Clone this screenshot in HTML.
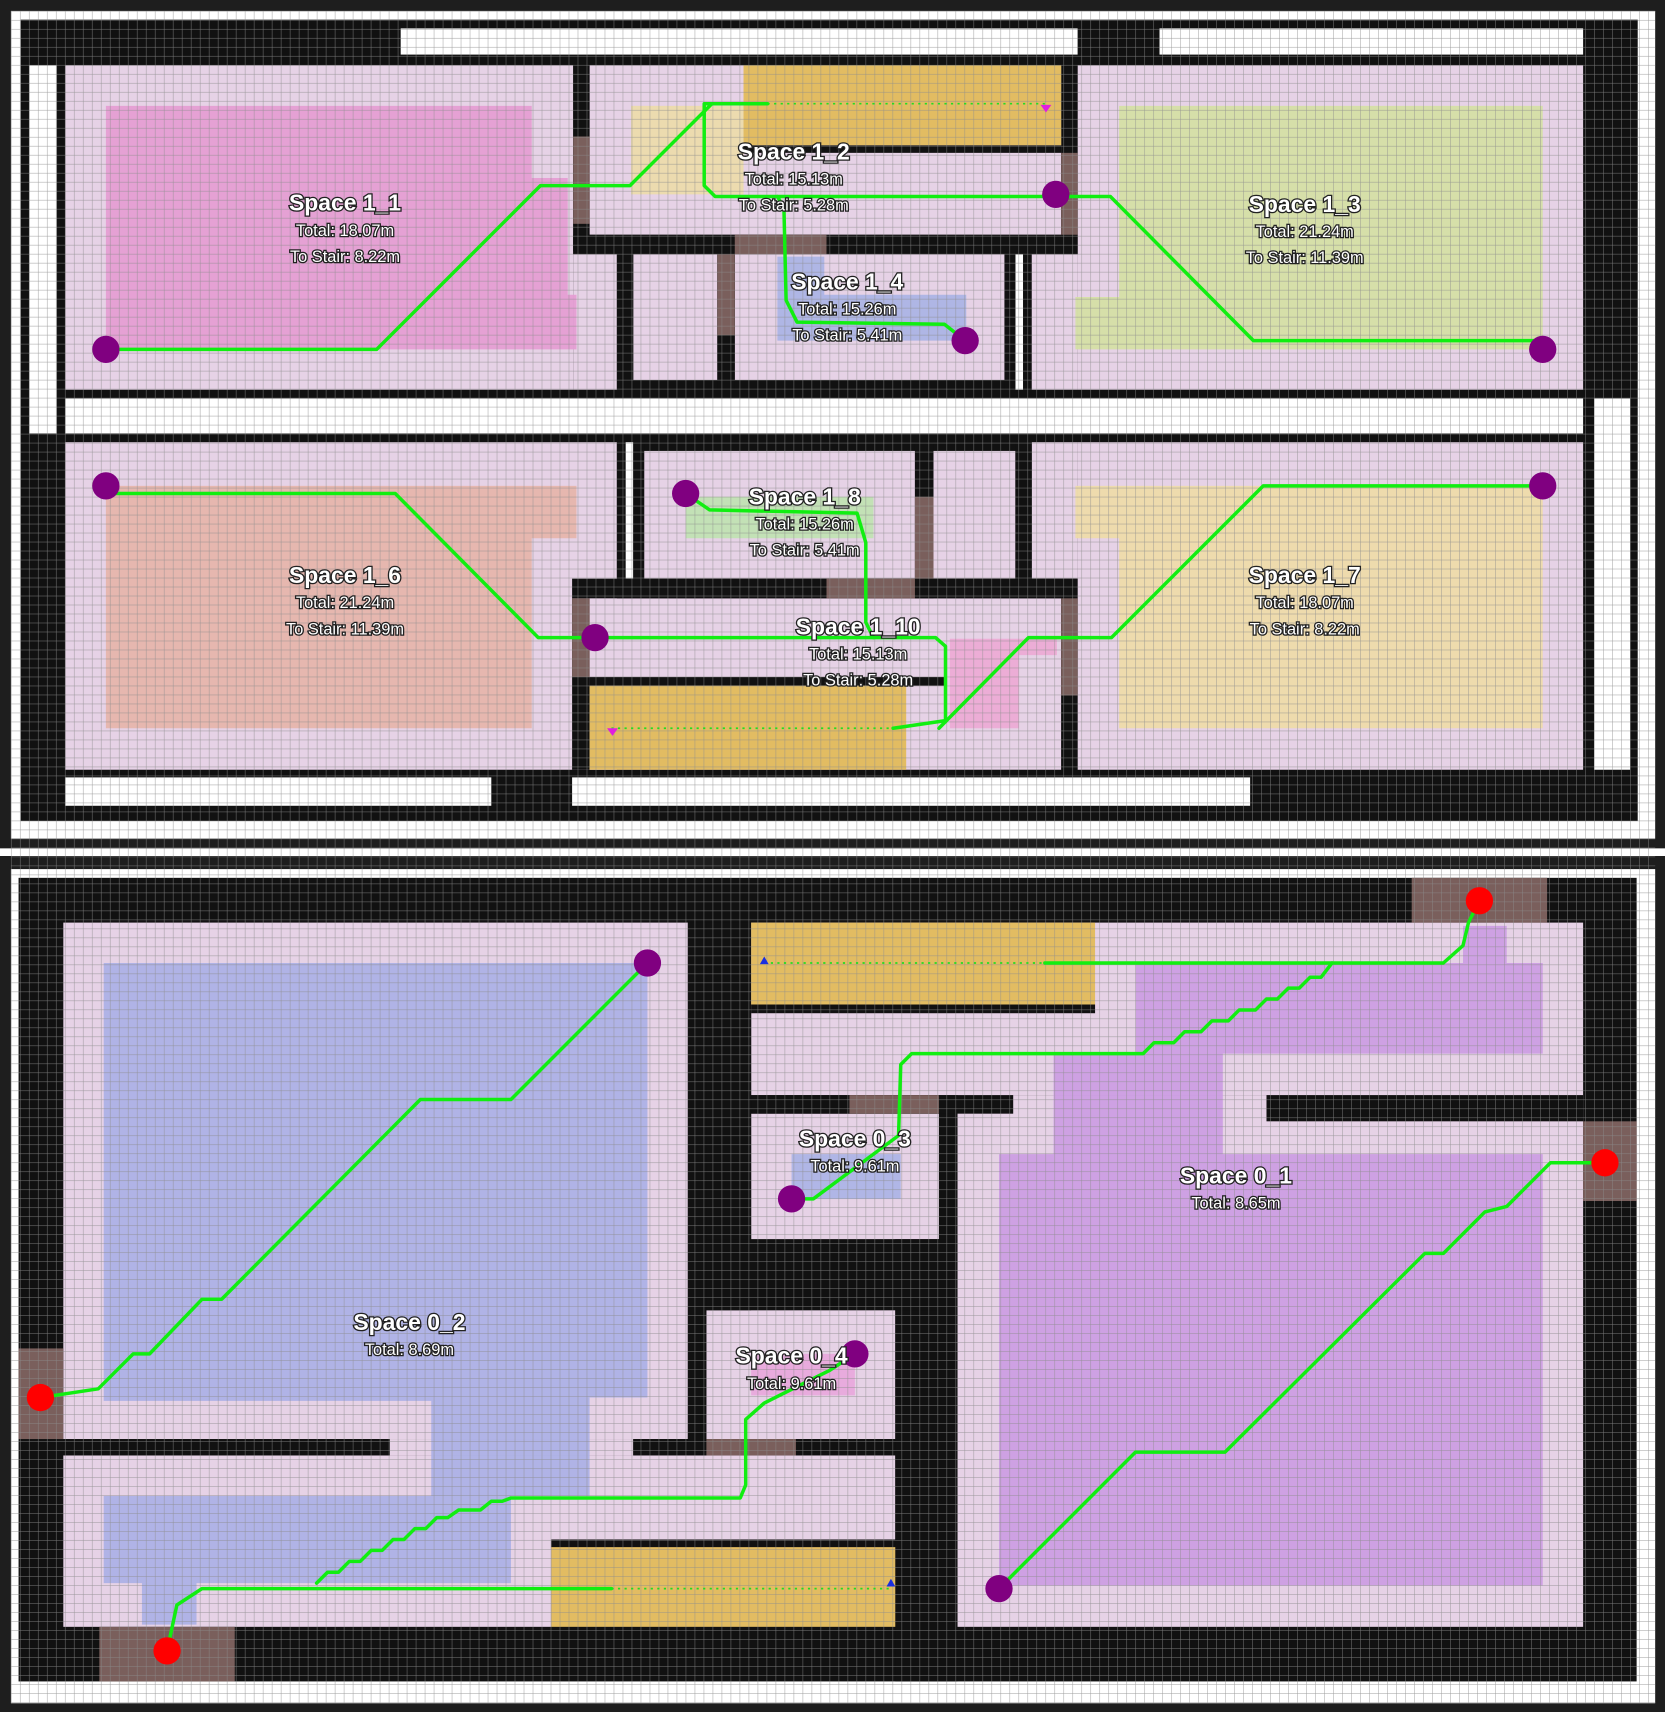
<!DOCTYPE html>
<html><head><meta charset="utf-8"><title>Floor plan paths</title>
<style>
html,body{margin:0;padding:0;background:#fff;}
svg{display:block;}
.lbl{font-family:"Liberation Sans",sans-serif;fill:#fff;stroke:#222;stroke-width:2.4px;paint-order:stroke;text-anchor:middle;}
.t1{font-size:21px;font-weight:bold;}
.t2{font-size:15px;}
</style></head>
<body>
<svg id="plan" width="1665" height="1712" viewBox="0 0 1525 1568" preserveAspectRatio="none" xmlns="http://www.w3.org/2000/svg">
<defs>
<pattern id="grid" patternUnits="userSpaceOnUse" x="10.5" y="10.5" width="8.24" height="8.24">
<path d="M8.24 0V8.24H0" fill="none" stroke="#8c8c8c" stroke-width="0.9" opacity="0.85"/>
</pattern>
</defs>
<g id="layers"></g>
</svg>
<script>
const NS='http://www.w3.org/2000/svg';
const frameRects=[[0,0,1525,777,'#1e1e1e','top-panel-frame'],[10,10,1506,758,'#ffffff','top-panel-canvas'],[0,784,1525,784,'#1e1e1e','bottom-panel-frame'],[10,796,1506,764,'#ffffff','bottom-panel-canvas']];
const wallRects=[[19,18,1481,734,'#111','top-floor-walls'],[17,804,1482,736,'#111','bottom-floor-walls']];
const exteriorRects=[[367,26,620,24,'top-exterior-strip'],[1062,26,388,24,'top-exterior-strip-2'],[27,60,25,337,'left-exterior-strip'],[60,365,1390,32,'corridor'],[1460,365,33,340,'right-exterior-strip'],[60,712,390,26,'bottom-exterior-strip'],[524,712,621,26,'bottom-exterior-strip-2'],[573,405,7,125,'thin-gap'],[930,233,7,124,'thin-gap-2']];
const roomRects=[[60,60,465,297,'space-1-1-floor'],[525,233,40,124,'space-1-1-nook'],[540,60,432,155,'space-1-2-floor'],[673,233,247,115,'space-1-4-floor'],[580,233,77,115,'closet-floor'],[987,60,463,297,'space-1-3-floor'],[945,233,42,124,'space-1-3-alcove'],
[60,405,505,300,'space-1-6-floor'],[590,413,248,117,'space-1-8-floor'],[855,413,75,117,'closet-2-floor'],[540,548,432,157,'space-1-10-floor'],[945,405,42,125,'space-1-7-alcove'],[987,405,463,300,'space-1-7-floor'],
[58,845,572,473,'space-0-2-floor'],[357,1318,223,15,'space-0-2-opening'],[58,1333,762,77,'space-0-2-hall'],[58,1410,447,80,'space-0-2-lower'],[647,1200,173,118,'space-0-4-floor'],[688,1020,172,115,'space-0-3-floor'],[688,845,762,158,'upper-hall-floor'],[877,1003,573,487,'space-0-1-floor'],[58,1283,337,35,'space-0-2-strip']];
const innerWalls=[[525,60,15,170],[972,60,15,173],[525,215,462,18],[565,233,15,124],[657,233,16,124],[920,233,10,124],[565,405,8,125],[580,405,10,125],[838,405,17,143],[930,405,15,125],[524,530,463,18],[524,548,16,157],[972,548,15,157],[540,620,326,8],[681,133,291,7],
[58,1318,299,15],[580,1318,240,15],[630,845,17,488],[647,845,41,355],[688,920,315,8],[688,1003,240,17],[860,1020,17,470],[820,1135,57,405],[647,1135,213,65],[1160,1003,290,24],[505,1410,315,7]];
const doorRects=[[525,125,15,80],[972,140,15,75],[673,215,84,18],[657,233,16,74],[838,455,17,75],[757,530,81,18],[524,548,16,72],[972,548,15,89],
[17,1235,41,83],[91,1490,124,50],[1293,804,124,41],[1450,1027,49,73],[778,1003,82,17],[647,1318,82,15]];
const stairRects=[[681,60,291,73,'stair-1-2'],[540,628,290,77,'stair-1-10'],[688,845,315,75,'stair-upper'],[505,1417,315,73,'stair-lower']];
const zoneNames=['zone-1-1','zone-1-2','zone-1-3','zone-1-4','zone-1-6','zone-1-8','zone-1-10','zone-1-7','zone-0-2','zone-0-1','zone-0-3','zone-0-4'];
const zoneColors=['#e49bd2','#ecdca8','#d4e0a2','#a8b2e4','#e6b4a8','#bfe2b0','#eca8d4','#eedca6','#aaafe6','#cb9be2','#aab2e6','#e8a6dc'];
const zonePts=[
'97,97 487,97 487,163 520,163 520,270 528,270 528,320 97,320',
'578,97 681,97 681,178 578,178',
'1025,97 1413,97 1413,320 985,320 985,272 1025,272',
'712,235 755,235 755,270 885,270 885,312 712,312',
'97,445 528,445 528,493 487,493 487,667 97,667',
'628,455 800,455 800,493 628,493',
'870,585 968,585 968,600 933,600 933,667 870,667',
'985,445 1413,445 1413,667 1025,667 1025,493 985,493',
'95,882 593,882 593,1280 540,1280 540,1370 468,1370 468,1450 180,1450 180,1488 130,1488 130,1450 95,1450 95,1370 395,1370 395,1283 95,1283',
'915,1057 965,1057 965,965 1040,965 1040,882 1340,882 1340,848 1380,848 1380,882 1413,882 1413,965 1120,965 1120,1057 1413,1057 1413,1452 915,1452',
'725,1057 825,1057 825,1098 725,1098',
'688,1240 783,1240 783,1278 688,1278'];
const pathPts=[
'97,320 345,320 495,170 577,170 652,95 703,95',
'1413,312 1148,312 1017,180 655,180 645,170 645,95 652,95',
'884,312 865,297 730,295 720,275 718,190 712,180',
'105,452 362,452 493,584 857,584 866,592 866,660 818,667',
'628,452 650,467 785,470 793,497 793,570 800,584',
'1413,445 1157,445 1018,584 942,584 860,667',
'37,1280 90,1272 122,1240 137,1240 185,1190 203,1190 385,1007 468,1007 593,882',
'153,1512 162,1470 185,1455 560,1455',
'290,1450 300,1440 310,1440 320,1430 330,1430 340,1420 350,1420 360,1410 370,1410 380,1400 390,1400 400,1390 410,1390 420,1383 440,1383 450,1375 460,1375 468,1372 678,1372 683,1360 683,1300 700,1285 760,1255 783,1240',
'725,1098 745,1098 823,1040 825,975 835,965 1047,965 1057,955 1075,955 1085,945 1100,945 1110,935 1125,935 1135,925 1150,925 1160,915 1170,915 1180,905 1190,905 1200,895 1210,895 1220,882',
'957,882 1322,882 1340,866 1345,845 1355,825',
'915,1455 1040,1330 1122,1330 1305,1148 1322,1148 1350,1120 1360,1110 1380,1105 1420,1065 1470,1065'];
const purpleX=[97,967,884,1413,97,628,545,1413,593,725,783,915];
const purpleY=[320,178,312,320,445,452,584,445,882,1098,1240,1455];
const redX=[37,153,1355,1470];
const redY=[1280,1512,825,1065];
const labelNames=['Space 1_1','Space 1_2','Space 1_3','Space 1_4','Space 1_6','Space 1_8','Space 1_10','Space 1_7','Space 0_2','Space 0_1','Space 0_3','Space 0_4'];
const labelTotals=['Total: 18.07m','Total: 15.13m','Total: 21.24m','Total: 15.26m','Total: 21.24m','Total: 15.26m','Total: 15.13m','Total: 18.07m','Total: 8.69m','Total: 8.65m','Total: 9.61m','Total: 9.61m'];
const labelStairs=['To Stair: 8.22m','To Stair: 5.28m','To Stair: 11.39m','To Stair: 5.41m','To Stair: 11.39m','To Stair: 5.41m','To Stair: 5.28m','To Stair: 8.22m','','','',''];
const labelX=[316,727,1195,776,316,737,786,1195,375,1132,783,725];
const labelY=[186,139,187,258,527,455,574,527,1211,1077,1043,1242];

const L=document.getElementById('layers');
function mk(tag,attrs,parent){const e=document.createElementNS(NS,tag);for(const k in attrs)e.setAttribute(k,attrs[k]);(parent||L).appendChild(e);return e;}
frameRects.forEach(r=>{const e=mk('rect',{x:r[0],y:r[1],width:r[2],height:r[3],fill:r[4]});

});
wallRects.forEach(r=>{const e=mk('rect',{x:r[0],y:r[1],width:r[2],height:r[3],fill:r[4]});

});
exteriorRects.forEach(r=>{const e=mk('rect',{x:r[0],y:r[1],width:r[2],height:r[3],fill:'#fff'});

});
roomRects.forEach(r=>{const e=mk('rect',{x:r[0],y:r[1],width:r[2],height:r[3],fill:'#e6d2e6'});

});
innerWalls.forEach(r=>{const e=mk('rect',{x:r[0],y:r[1],width:r[2],height:r[3],fill:'#111'});

});
doorRects.forEach(r=>{const e=mk('rect',{x:r[0],y:r[1],width:r[2],height:r[3],fill:'#7a5f5c'});

});
stairRects.forEach(r=>{const e=mk('rect',{x:r[0],y:r[1],width:r[2],height:r[3],fill:'#e2bc62'});

});
zonePts.forEach((p,i)=>{const e=mk('polygon',{points:p,fill:zoneColors[i],opacity:0.9});

});
const g=mk('rect',{x:10,y:10,width:1506,height:1550,fill:'url(#grid)'});


[[703,95,958,95],[560,667,818,667],[700,882,957,882],[560,1455,816,1455]].forEach(d=>{const e=mk('line',{x1:d[0],y1:d[1],x2:d[2],y2:d[3],stroke:'#22dd22','stroke-width':1.5,'stroke-dasharray':'2 4'});

});
[['958,97 953,104 963,104','#e01ee0',1],['561,668 556,675 566,675','#e01ee0',1],['700,876 696,883 704,883','#1a2ee0',0],['816,1446 812,1453 820,1453','#1a2ee0',0]].forEach(t=>{
let pts=t[0];if(t[2]){const a=pts.split(' ').map(s=>s.split(',').map(Number));pts=a[0][0]+','+(a[0][1]+6)+' '+a[1][0]+','+(a[0][1]-1)+' '+a[2][0]+','+(a[0][1]-1);}
const e=mk('polygon',{points:pts,fill:t[1]});

});
pathPts.forEach(p=>{const e=mk('polyline',{points:p,fill:'none',stroke:'#11ee11','stroke-width':3.2,'stroke-linejoin':'round','stroke-linecap':'round'});

});
purpleX.forEach((x,i)=>{const e=mk('circle',{cx:x,cy:purpleY[i],r:12.5,fill:'#800080'});

});
redX.forEach((x,i)=>{const e=mk('circle',{cx:x,cy:redY[i],r:12.5,fill:'#ff0000'});

});
labelNames.forEach((n,i)=>{
const t=mk('text',{x:labelX[i],y:labelY[i]+7,class:'lbl t1'});t.textContent=n;


const t2=mk('text',{x:labelX[i],y:labelY[i]+30,class:'lbl t2'});t2.textContent=labelTotals[i];


if(labelStairs[i]){const t3=mk('text',{x:labelX[i],y:labelY[i]+54,class:'lbl t2'});t3.textContent=labelStairs[i];

}
});
</script>
</body></html>
